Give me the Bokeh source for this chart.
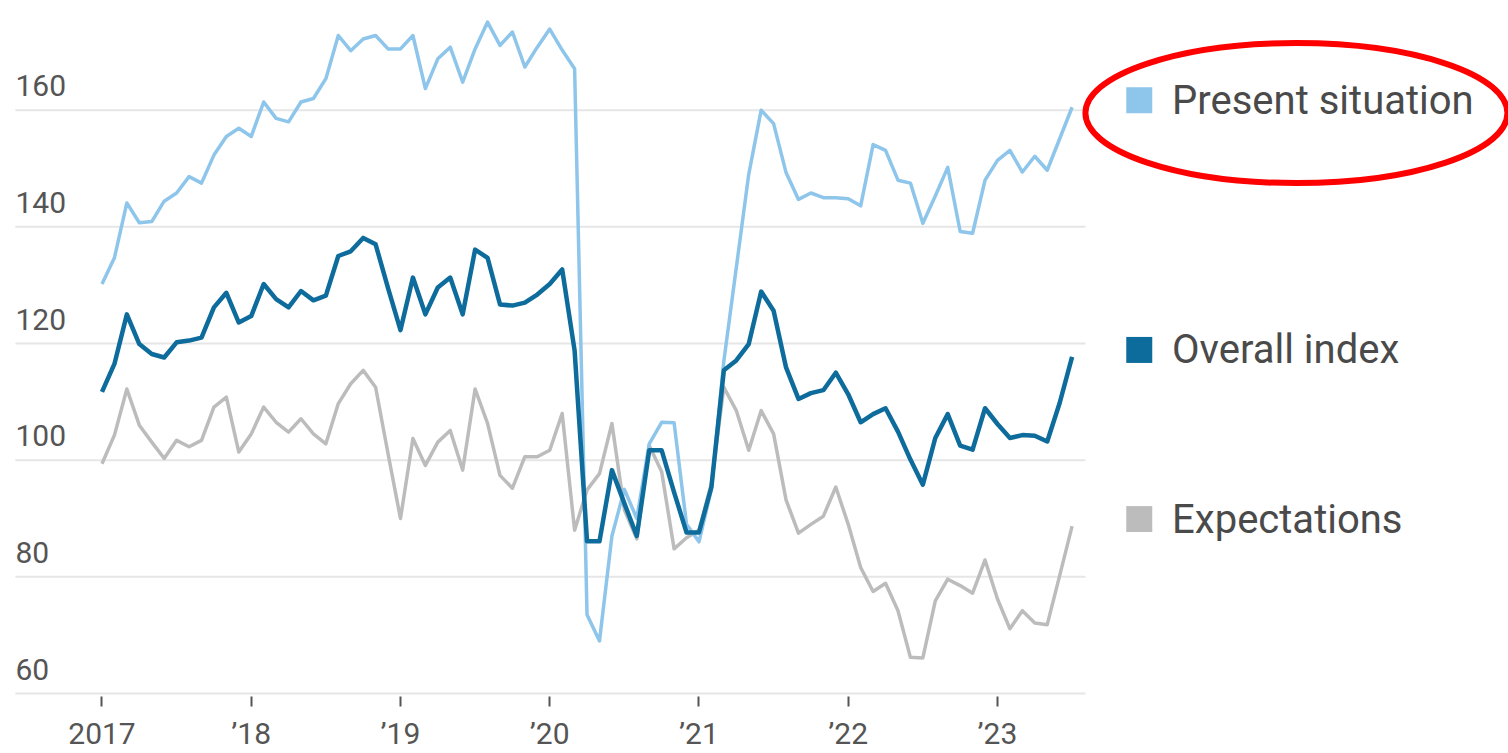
import numpy as np
from bokeh.plotting import figure
from bokeh.models import Range1d, FixedTicker, LinearAxis
from bokeh.core.properties import value
from bokeh.embed import file_html
from bokeh.resources import INLINE

# Consumer confidence, monthly from January 2017 (index, 1985 = 100)
start_year = 2017
overall = [
    111.7, 116.5, 125.0, 119.9, 118.2, 117.6, 120.2, 120.5, 121.0, 126.2, 128.7, 123.6,
    124.7, 130.2, 127.6, 126.2, 129.0, 127.4, 128.2, 135.0, 135.8, 138.1, 137.0, 129.5,
    122.3, 131.3, 125.0, 129.6, 131.3, 125.0, 136.1, 134.7, 126.7, 126.5, 127.0, 128.4,
    130.2, 132.7, 118.8, 86.1, 86.1, 98.3, 92.6, 87.0, 101.7, 101.7, 94.5, 87.6,
    87.6, 95.4, 115.4, 117.1, 119.9, 128.9, 125.6, 115.9, 110.5, 111.5, 112.0, 115.0,
    111.3, 106.5, 107.9, 108.9, 104.9, 100.1, 95.8, 103.8, 107.9, 102.5, 101.8, 108.9,
    106.2, 103.8, 104.3, 104.2, 103.2, 109.8, 117.7,
]
present = [
    130.2, 134.7, 144.1, 140.7, 140.9, 144.4, 145.8, 148.6, 147.5, 152.3, 155.5, 156.9,
    155.5, 161.4, 158.6, 158.0, 161.4, 162.0, 165.4, 172.8, 170.2, 172.2, 172.8, 170.5,
    170.5, 172.8, 163.7, 168.8, 170.8, 164.8, 170.5, 175.1, 171.1, 173.4, 167.4, 170.8,
    173.9, 170.3, 167.1, 73.5, 69.0, 87.0, 95.0, 90.0, 102.8, 106.5, 106.4, 89.0,
    86.0, 95.0, 117.0, 133.0, 149.0, 160.0, 157.7, 149.3, 144.7, 145.8, 145.0, 145.0,
    144.8, 143.6, 154.1, 153.1, 148.0, 147.5, 140.6, 145.3, 150.2, 139.2, 138.9, 148.0,
    151.4, 153.1, 149.4, 152.1, 149.7, 155.1, 160.5,
]
expectations = [
    99.4, 104.3, 112.2, 106.0, 103.1, 100.3, 103.4, 102.3, 103.4, 109.1, 110.8, 101.4,
    104.5, 109.1, 106.5, 104.8, 107.1, 104.5, 102.8, 109.7, 113.1, 115.4, 112.5, 101.1,
    90.0, 103.7, 99.1, 103.1, 105.1, 98.3, 112.2, 106.3, 97.4, 95.2, 100.6, 100.6,
    101.7, 108.0, 88.0, 94.9, 97.7, 106.3, 91.5, 86.5, 102.5, 98.0, 84.8, 86.7,
    88.0, 96.0, 112.5, 108.5, 101.7, 108.5, 104.5, 93.2, 87.5, 89.0, 90.4, 95.4,
    89.0, 81.6, 77.5, 78.9, 74.2, 66.2, 66.1, 75.9, 79.6, 78.5, 77.2, 82.9,
    76.2, 71.1, 74.2, 72.1, 71.8, 80.2, 88.7,
]

series_names = ["Present situation", "Overall index", "Expectations"]
series_colors = ["#8ec5ea", "#0e6c9c", "#bcbcbc"]

y_ticks = [60, 80, 100, 120, 140, 160]
y_tick_labels = ["60", "80", "100", "120", "140", "160"]
x_ticks = [2017, 2018, 2019, 2020, 2021, 2022, 2023]
x_tick_labels = ["2017", "\u201918", "\u201919", "\u201920", "\u201921", "\u201922", "\u201923"]

n = len(overall)
x = start_year + np.arange(n) / 12.0

FONT = "Roboto"
TEXT_COLOR = "#555555"

p = figure(
    width=1508, height=753,
    output_backend="svg", toolbar_location=None,
    x_range=Range1d(2016.32, 2026.424),
    y_range=Range1d(59.49, 178.8),
    x_axis_location=None, y_axis_location=None,
    min_border_left=0, min_border_right=0, min_border_top=0, min_border_bottom=55,
)
p.outline_line_color = None
p.background_fill_color = "white"
p.border_fill_color = "white"
for g in p.grid:
    g.visible = False

# year axis along the bottom
xaxis = LinearAxis(
    ticker=FixedTicker(ticks=x_ticks),
    major_label_overrides={t: lab for t, lab in zip(x_ticks, x_tick_labels)},
)
xaxis.axis_line_color = None
xaxis.major_tick_in = 0
xaxis.major_tick_out = 10
xaxis.major_tick_line_color = TEXT_COLOR
xaxis.major_tick_line_width = 2
xaxis.minor_tick_line_color = None
xaxis.major_label_standoff = 9
xaxis.major_label_text_font = FONT
xaxis.major_label_text_font_size = "30px"
xaxis.major_label_text_color = TEXT_COLOR
p.add_layout(xaxis, "below")

# horizontal rules and their labels sitting above them
grid_x0 = x[0] - 0.58
grid_x1 = x[-1] + 0.09
p.segment(x0=[grid_x0] * len(y_ticks), x1=[grid_x1] * len(y_ticks),
          y0=y_ticks, y1=y_ticks, line_color="#e6e6e6", line_width=2)
p.text(x=[grid_x0] * len(y_ticks), y=y_ticks, text=y_tick_labels,
       text_baseline="bottom", text_align="left", y_offset=-14,
       text_font=value(FONT), text_font_size="30px", text_color=TEXT_COLOR)

# the three series
p.line(x, expectations, line_color=series_colors[2], line_width=3.5, line_join="round")
p.line(x, present, line_color=series_colors[0], line_width=3.5, line_join="round")
p.line(x, overall, line_color=series_colors[1], line_width=4.5, line_join="round")

# direct labels next to the latest readings
last_vals = [present[-1], overall[-1], expectations[-1]]
label_y = [v + 1.2 for v in last_vals]
p.scatter(x=[x[-1] + 0.45] * 3, y=label_y, marker="square", size=26,
          fill_color=series_colors, line_color=None)
p.text(x=[x[-1]] * 3, y=label_y, text=series_names, x_offset=100,
       text_baseline="middle", text_align="left",
       text_font=value(FONT), text_font_size="40px", text_color="#4a4a4a")

# red ring around the present-situation label
p.ellipse(x=[x[-1] + 1.503], y=[present[-1] - 1.0], width=422, height=140,
          width_units="screen", height_units="screen",
          fill_color=None, line_color="#ff0000", line_width=6)

open("out.html", "w").write(file_html(p, INLINE))
